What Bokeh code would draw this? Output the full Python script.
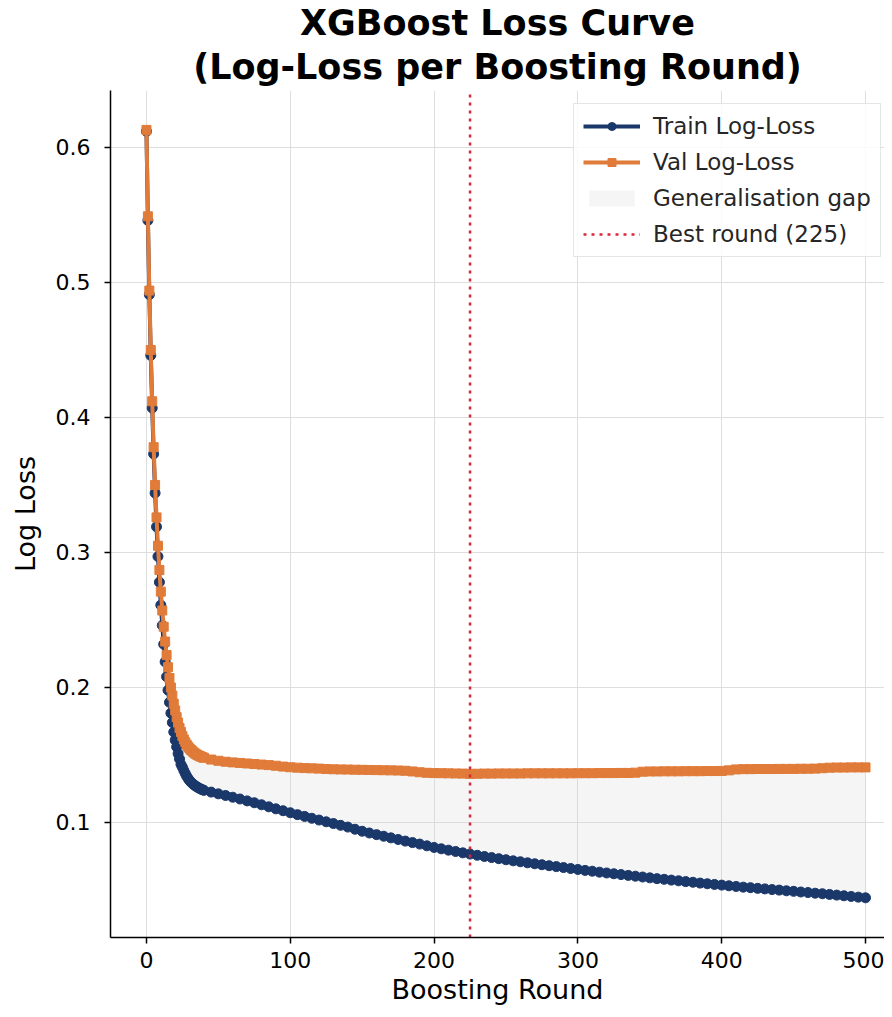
from bokeh.plotting import figure
from bokeh.models import ColumnDataSource, Title, Legend, LegendItem, Range1d, FixedTicker
from bokeh.embed import file_html
from bokeh.resources import INLINE

# ---------------- data ----------------
ROUNDS = list(range(0, 41)) + list(range(45, 501, 5))

TRAIN_HEAD = [0.612, 0.546, 0.491, 0.446, 0.407, 0.373, 0.344, 0.319, 0.297, 0.278,
              0.261, 0.246, 0.232, 0.219, 0.208, 0.198, 0.189, 0.181, 0.174, 0.167,
              0.161, 0.156, 0.151, 0.147, 0.143, 0.141, 0.1385, 0.1362, 0.1342, 0.1325,
              0.1310, 0.1298, 0.1288, 0.1279, 0.1271, 0.1264, 0.1258, 0.1252, 0.1247, 0.1242,
              0.1238]
TRAIN_TAIL = [0.1225, 0.1212, 0.1200, 0.1187, 0.1174, 0.1160, 0.1146, 0.1131, 0.1116, 0.1101,
              0.1087, 0.1072, 0.1058, 0.1045, 0.1031, 0.1018, 0.1005, 0.0992, 0.0979, 0.0966,
              0.0950, 0.0935, 0.0922, 0.0910, 0.0898, 0.0886, 0.0874, 0.0862, 0.0851, 0.0840,
              0.0827, 0.0815, 0.0805, 0.0795, 0.0785, 0.0775, 0.0766, 0.0757, 0.0748, 0.0740,
              0.0732, 0.0724, 0.0716, 0.0709, 0.0701, 0.0694, 0.0687, 0.0680, 0.0673, 0.0666,
              0.0659, 0.0652, 0.0645, 0.0639, 0.0632, 0.0626, 0.0620, 0.0614, 0.0608, 0.0602,
              0.0596, 0.0590, 0.0584, 0.0579, 0.0573, 0.0568, 0.0562, 0.0557, 0.0551, 0.0546,
              0.0541, 0.0536, 0.0531, 0.0526, 0.0521, 0.0517, 0.0512, 0.0508, 0.0503, 0.0499,
              0.0494, 0.0490, 0.0485, 0.0481, 0.0476, 0.0472, 0.0467, 0.0462, 0.0457, 0.0452,
              0.0447, 0.0442]

VAL_HEAD = [0.613, 0.549, 0.494, 0.450, 0.412, 0.378, 0.350, 0.326, 0.305, 0.287,
            0.271, 0.257, 0.245, 0.234, 0.224, 0.215, 0.207, 0.200, 0.194, 0.188,
            0.183, 0.178, 0.174, 0.170, 0.167, 0.164, 0.1615, 0.1594, 0.1576, 0.1561,
            0.1548, 0.1537, 0.1527, 0.1518, 0.1510, 0.1503, 0.1497, 0.1492, 0.1487, 0.1483,
            0.1479]
VAL_TAIL = [0.1466, 0.1457, 0.1450, 0.1445, 0.1441, 0.1437, 0.1433, 0.1429, 0.1425, 0.1420,
            0.1414, 0.1409, 0.1406, 0.1403, 0.1401, 0.1399, 0.1396, 0.1394, 0.1393, 0.1392,
            0.1391, 0.1390, 0.1389, 0.1388, 0.1387, 0.1386, 0.1385, 0.1383, 0.1378, 0.1372,
            0.1368, 0.1366, 0.1365, 0.1364, 0.1363, 0.1362, 0.1360, 0.1361, 0.1362, 0.1362,
            0.1363, 0.1363, 0.1363, 0.1363, 0.1364, 0.1364, 0.1364, 0.1364, 0.1364, 0.1364,
            0.1364, 0.1365, 0.1365, 0.1365, 0.1366, 0.1366, 0.1366, 0.1367, 0.1367, 0.1369,
            0.1376, 0.1378, 0.1378, 0.1379, 0.1379, 0.1379, 0.1380, 0.1380, 0.1380, 0.1381,
            0.1381, 0.1382, 0.1386, 0.1393, 0.1395, 0.1395, 0.1396, 0.1396, 0.1396, 0.1397,
            0.1397, 0.1397, 0.1398, 0.1398, 0.1399, 0.1402, 0.1406, 0.1407, 0.1407, 0.1408,
            0.1408, 0.1408]

TRAIN_LOSS = TRAIN_HEAD + TRAIN_TAIL
VAL_LOSS = VAL_HEAD + VAL_TAIL
BEST_ROUND = 225

X_TICKS = [0, 100, 200, 300, 400, 500]
Y_TICKS = [0.1, 0.2, 0.3, 0.4, 0.5, 0.6]
X_MIN, X_MAX = -25.0, 513.2
Y_MIN, Y_MAX = 0.0148, 0.6422

TITLE_1 = "XGBoost Loss Curve"
TITLE_2 = "(Log-Loss per Boosting Round)"

# ---------------- style ----------------
FONT = "DejaVu Sans"
TRAIN_COLOR = "#1b386b"
VAL_COLOR = "#e07b39"
BEST_COLOR = "#d62839"

n = min(len(ROUNDS), len(TRAIN_LOSS), len(VAL_LOSS))
src = ColumnDataSource(dict(x=ROUNDS[:n], train=TRAIN_LOSS[:n], val=VAL_LOSS[:n]))

p = figure(width=884, height=1009, output_backend="svg", toolbar_location=None,
           x_range=Range1d(X_MIN, X_MAX), y_range=Range1d(Y_MIN, Y_MAX),
           min_border_left=110, min_border_right=0, min_border_top=90, min_border_bottom=72)

# p.title is the outermost line; the added Title sits closest to the plot
p.title.text = TITLE_1
p.title.text_font = FONT
p.title.text_font_size = "35px"
p.title.text_font_style = "bold"
p.title.text_color = "black"
p.title.align = "center"
p.title.offset = 9
p.title.standoff = -4
p.add_layout(Title(text=TITLE_2, text_font=FONT, text_font_size="35px",
                   text_font_style="bold", text_color="black",
                   align="center", offset=9, standoff=8), "above")

p.outline_line_color = None
p.background_fill_color = "white"
p.border_fill_color = "white"

for ax in (p.xaxis[0], p.yaxis[0]):
    ax.axis_line_color = "black"
    ax.axis_line_width = 1.5
    ax.major_tick_line_color = "black"
    ax.major_tick_line_width = 1.5
    ax.major_tick_out = 6
    ax.major_tick_in = 0
    ax.minor_tick_line_color = None
    ax.major_label_text_font = FONT
    ax.major_label_text_font_size = "22px"
    ax.major_label_text_color = "black"
    ax.axis_label_text_font = FONT
    ax.axis_label_text_font_size = "27px"
    ax.axis_label_text_font_style = "normal"
    ax.axis_label_text_color = "black"

p.xaxis[0].ticker = FixedTicker(ticks=X_TICKS)
p.yaxis[0].ticker = FixedTicker(ticks=Y_TICKS)
p.xaxis[0].axis_label = "Boosting Round"
p.yaxis[0].axis_label = "Log Loss"
p.xaxis[0].major_label_standoff = 8
p.yaxis[0].major_label_standoff = 14
p.xaxis[0].axis_label_standoff = 3
p.yaxis[0].axis_label_standoff = 12

p.xgrid.ticker = FixedTicker(ticks=X_TICKS)
p.ygrid.ticker = FixedTicker(ticks=Y_TICKS)
p.grid.grid_line_color = "#dedede"
p.grid.grid_line_width = 1

gap = p.varea(x="x", y1="train", y2="val", source=src, fill_color="#d0d0d0", fill_alpha=0.22)

tr_line = p.line("x", "train", source=src, line_color=TRAIN_COLOR, line_width=4)
tr_pts = p.scatter("x", "train", source=src, marker="circle", size=10,
                   fill_color=TRAIN_COLOR, line_color=TRAIN_COLOR)
va_line = p.line("x", "val", source=src, line_color=VAL_COLOR, line_width=4)
va_pts = p.scatter("x", "val", source=src, marker="square", size=9,
                   fill_color=VAL_COLOR, line_color=VAL_COLOR)

best = p.segment(x0=[BEST_ROUND], y0=[Y_MIN], x1=[BEST_ROUND], y1=[Y_MAX],
                 line_color=BEST_COLOR, line_width=2.5, line_dash="3 5")

legend = Legend(items=[
    LegendItem(label="Train Log-Loss", renderers=[tr_line, tr_pts]),
    LegendItem(label="Val Log-Loss", renderers=[va_line, va_pts]),
    LegendItem(label="Generalisation gap", renderers=[gap]),
    LegendItem(label=f"Best round ({BEST_ROUND})", renderers=[best]),
], location=(463, 680))
legend.margin = 0
legend.padding = 9
legend.spacing = 10
legend.glyph_width = 57
legend.glyph_height = 20
legend.label_standoff = 13
legend.label_text_font = FONT
legend.label_text_font_size = "23px"
legend.label_text_color = "#262626"
legend.border_line_color = "#cccccc"
legend.border_line_width = 1
legend.background_fill_color = "white"
legend.background_fill_alpha = 0.85
p.add_layout(legend)

open("out.html", "w").write(file_html(p, INLINE))
